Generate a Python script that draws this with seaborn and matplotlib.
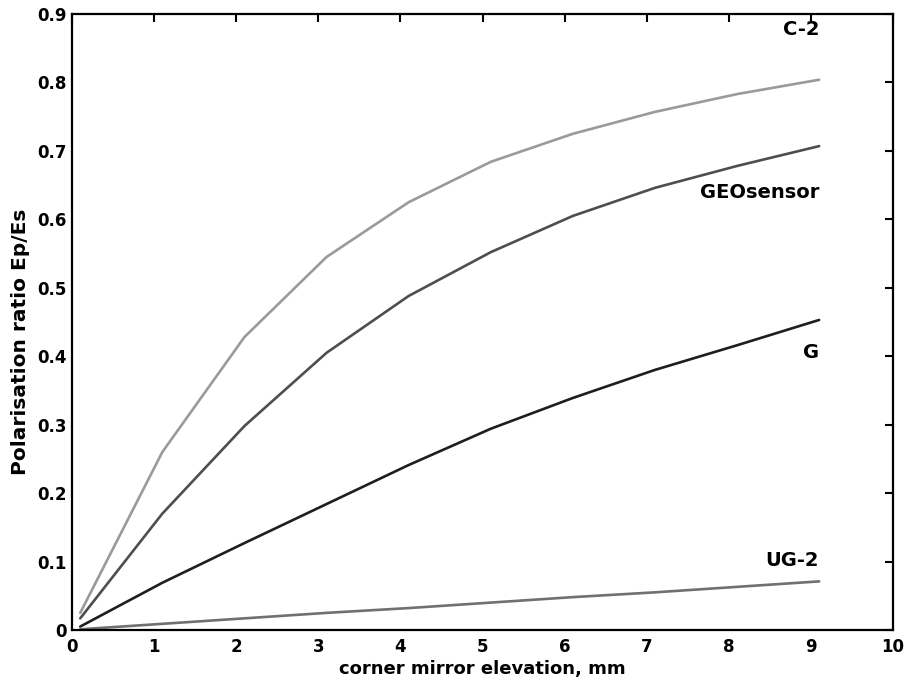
import numpy as np
import pandas as pd
import matplotlib
matplotlib.use("Agg")
import matplotlib.pyplot as plt
import seaborn as sns

# corner mirror elevation, mm
elevation = [0.1, 1.1, 2.1, 3.1, 4.1, 5.1, 6.1, 7.1, 8.1, 9.1]

# polarisation ratio Ep/Es per sensor
c2 = [0.025, 0.260, 0.428, 0.545, 0.625, 0.684, 0.725, 0.757, 0.783, 0.804]
geosensor = [0.017, 0.170, 0.298, 0.405, 0.488, 0.552, 0.605, 0.646, 0.678, 0.707]
g = [0.005, 0.069, 0.127, 0.184, 0.241, 0.294, 0.339, 0.380, 0.416, 0.453]
ug2 = [0.001, 0.009, 0.017, 0.025, 0.032, 0.040, 0.048, 0.055, 0.063, 0.071]

series_names = ["C-2", "GEOsensor", "G", "UG-2"]
series_values = [c2, geosensor, g, ug2]
series_colors = ["#9a9a9a", "#4e4e4e", "#1e1e1e", "#707070"]
label_y = [0.877, 0.639, 0.406, 0.101]

df = pd.DataFrame({
    "elevation": np.tile(elevation, len(series_names)),
    "ratio": np.concatenate(series_values),
    "sensor": np.repeat(series_names, len(elevation)),
})

sns.set_style("white")
plt.rcParams["font.family"] = ["DejaVu Sans"]
plt.rcParams["text.color"] = "black"
plt.rcParams["axes.labelcolor"] = "black"
plt.rcParams["xtick.color"] = "black"
plt.rcParams["ytick.color"] = "black"

fig = plt.figure(figsize=(9.06, 6.87), dpi=100)
ax = fig.add_axes([0.0795, 0.083, 0.9062, 0.8966])

sns.lineplot(data=df, x="elevation", y="ratio", hue="sensor",
             palette=dict(zip(series_names, series_colors)),
             linewidth=1.9, legend=False, ax=ax)

for name, y in zip(series_names, label_y):
    ax.text(elevation[-1], y, name, ha="right", va="center",
            fontsize=14, fontweight="bold", color="black")

ax.set_xlim(0, 10)
ax.set_ylim(0, 0.9)
ax.set_xticks(range(0, 11))
ax.set_xticklabels([str(i) for i in range(0, 11)])
yt = [i / 10 for i in range(0, 10)]
ax.set_yticks(yt)
ax.set_yticklabels(["0"] + [f"{v:.1f}" for v in yt[1:]])

ax.tick_params(direction="in", length=6, width=1.5, top=True, right=True,
               labelsize=12, labelcolor="black")
ax.tick_params(axis="x", pad=6)
ax.tick_params(axis="y", pad=4)
for lbl in ax.get_xticklabels() + ax.get_yticklabels():
    lbl.set_fontweight("bold")
for sp in ax.spines.values():
    sp.set_linewidth(1.6)
    sp.set_color("black")

ax.set_xlabel("corner mirror elevation, mm", fontsize=13, fontweight="bold",
              color="black", labelpad=3)
ax.set_ylabel("Polarisation ratio Ep/Es", fontsize=14.5, fontweight="bold",
              color="black")
ax.yaxis.set_label_coords(-0.051, 0.4675)

fig.savefig("out.png", dpi=100, facecolor="white")
